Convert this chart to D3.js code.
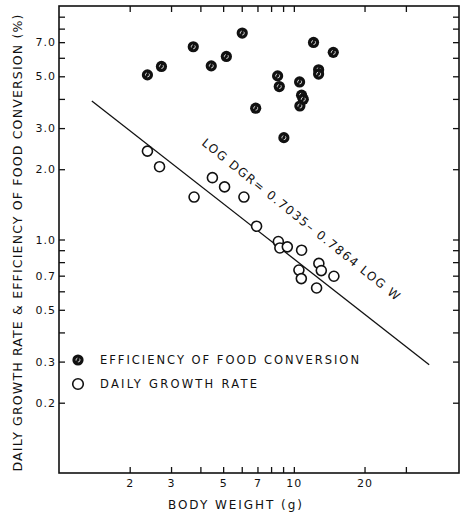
<!DOCTYPE html>
<html>
<head>
<meta charset="utf-8">
<script src="https://cdn.jsdelivr.net/npm/d3@7"></script>
<style>
body { margin: 0; background: #fff; }
text { font-family: "DejaVu Sans", sans-serif; fill: #111; }
</style>
</head>
<body>
<script>
// efficiency of food conversion (filled symbols)
var weightEff  = [2.38, 2.73, 3.73, 4.45, 5.16, 6.03, 6.88, 8.53, 8.67, 9.07, 10.58, 10.79, 10.97, 10.61, 12.13, 12.75, 12.75, 14.72];
var efficiency = [5.07, 5.51, 6.69, 5.54, 6.08, 7.66, 3.65, 5.02, 4.52, 2.73, 4.73, 4.15, 3.99, 3.73, 6.98, 5.33, 5.11, 6.33];

// daily growth rate (open symbols)
var weightDgr = [2.38, 2.68, 3.76, 4.50, 5.07, 6.13, 6.94, 8.59, 8.72, 9.38, 10.79, 10.51, 10.76, 12.78, 13.09, 14.81, 12.50];
var dgr       = [2.39, 2.05, 1.52, 1.84, 1.68, 1.52, 1.14, 0.98, 0.92, 0.93, 0.90, 0.74, 0.68, 0.79, 0.736, 0.696, 0.62];

// fitted line: log DGR = a - b log W
var fitA = 0.7035, fitB = 0.7864;
var fitRange = [1.38, 37.7];

var xTicks  = [2, 3, 4, 5, 6, 7, 8, 9, 10, 20, 30];
var xLabels = [2, 3, 5, 7, 10, 20];
var yTicks  = [0.2, 0.3, 0.4, 0.5, 0.6, 0.7, 0.8, 0.9, 1, 2, 3, 4, 5, 6, 7, 8, 9];
var yLabels = [0.2, 0.3, 0.5, 0.7, 1, 2, 3, 5, 7];

var W = 460, H = 512;
var mLeft = 59, mRight = 459, mTop = 6, mBottom = 473;

var svg = d3.select("body").append("svg")
    .attr("width", W)
    .attr("height", H);

var x = d3.scaleLog().domain([1, 50.5]).range([mLeft, mRight]);
var y = d3.scaleLog().domain([0.1, 10]).range([mBottom, mTop]);

function xfmt(d) { return xLabels.indexOf(d) >= 0 ? String(d) : ""; }
function yfmt(d) { return yLabels.indexOf(d) >= 0 ? d.toFixed(1) : ""; }

// axes, ticks pointing inward
var gx = svg.append("g")
    .attr("transform", `translate(0,${mBottom})`)
    .call(d3.axisBottom(x).tickValues(xTicks).tickFormat(xfmt).tickSize(-6).tickSizeOuter(0).tickPadding(4));
var gxt = svg.append("g")
    .attr("transform", `translate(0,${mTop})`)
    .call(d3.axisTop(x).tickValues(xTicks).tickFormat("").tickSize(-6).tickSizeOuter(0));
var gy = svg.append("g")
    .attr("transform", `translate(${mLeft},0)`)
    .call(d3.axisLeft(y).tickValues(yTicks).tickFormat(yfmt).tickSize(-6).tickSizeOuter(0).tickPadding(3));
var gyr = svg.append("g")
    .attr("transform", `translate(${mRight},0)`)
    .call(d3.axisRight(y).tickValues(yTicks).tickFormat("").tickSize(-6).tickSizeOuter(0));

svg.selectAll(".domain").remove();
svg.selectAll(".tick line").attr("stroke", "#111").attr("stroke-width", 1.3);
svg.selectAll(".tick text")
    .attr("font-size", 11)
    .attr("letter-spacing", 1)
    .attr("fill", "#111");
gx.selectAll(".tick text").attr("dy", "0.9em");

// frame
svg.append("rect")
    .attr("x", mLeft).attr("y", mTop)
    .attr("width", mRight - mLeft).attr("height", mBottom - mTop)
    .attr("fill", "none")
    .attr("stroke", "#111")
    .attr("stroke-width", 1.6);

// regression line
var fitLine = fitRange.map(function(w) {
    return [w, Math.pow(10, fitA - fitB * Math.log10(w))];
});
svg.append("path")
    .attr("d", d3.line().x(d => x(d[0])).y(d => y(d[1]))(fitLine))
    .attr("fill", "none")
    .attr("stroke", "#111")
    .attr("stroke-width", 1.3);

// equation label along the line
var ang = 38.8;
svg.append("text")
    .attr("transform", `translate(${x(4.02)},${y(2.56)}) rotate(${ang})`)
    .attr("font-size", 12)
    .attr("textLength", 250)
    .attr("lengthAdjust", "spacing")
    .text("LOG DGR= 0.7035\u2013 0.7864 LOG W");

// open circles: daily growth rate
svg.append("g").selectAll("circle")
    .data(dgr)
    .join("circle")
    .attr("cx", (d, i) => x(weightDgr[i]))
    .attr("cy", d => y(d))
    .attr("r", 5)
    .attr("fill", "#fff")
    .attr("stroke", "#111")
    .attr("stroke-width", 1.6);

// filled circles: efficiency
function filledMark(g) {
    g.append("circle").attr("r", 5.6).attr("fill", "#111");
    g.append("circle").attr("r", 2).attr("fill", "none")
        .attr("stroke", "#fff").attr("stroke-width", 0.8).attr("stroke-dasharray", "3,2");
}
svg.append("g").selectAll("g")
    .data(efficiency)
    .join("g")
    .attr("transform", (d, i) => `translate(${x(weightEff[i])},${y(d)})`)
    .each(function() { filledMark(d3.select(this)); });

// legend
var leg = svg.append("g");
filledMark(leg.append("g").attr("transform", "translate(78,360)"));
leg.append("circle")
    .attr("cx", 78).attr("cy", 384).attr("r", 5.3)
    .attr("fill", "#fff").attr("stroke", "#111").attr("stroke-width", 1.6);
leg.append("text")
    .attr("x", 100).attr("y", 364)
    .attr("font-size", 11.5)
    .attr("textLength", 259).attr("lengthAdjust", "spacing")
    .text("EFFICIENCY OF FOOD CONVERSION");
leg.append("text")
    .attr("x", 100).attr("y", 388)
    .attr("font-size", 11.5)
    .attr("textLength", 157).attr("lengthAdjust", "spacing")
    .text("DAILY GROWTH RATE");

// axis titles
svg.append("text")
    .attr("x", 235).attr("y", 509)
    .attr("text-anchor", "middle")
    .attr("font-size", 12)
    .attr("textLength", 134).attr("lengthAdjust", "spacing")
    .text("BODY WEIGHT (g)");

svg.append("text")
    .attr("transform", "translate(22,243) rotate(-90)")
    .attr("text-anchor", "middle")
    .attr("font-size", 12.5)
    .attr("textLength", 457).attr("lengthAdjust", "spacing")
    .text("DAILY GROWTH RATE & EFFICIENCY OF FOOD CONVERSION (%)");
</script>
</body>
</html>
